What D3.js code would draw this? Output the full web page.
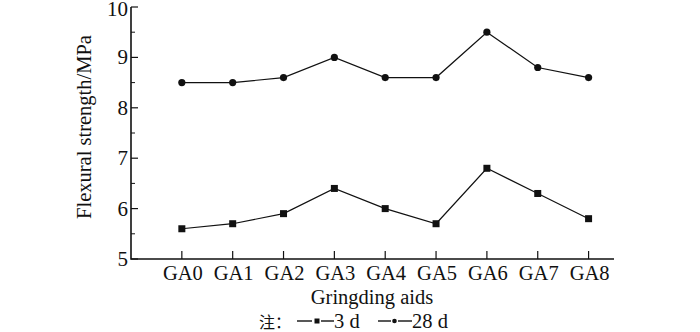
<!DOCTYPE html>
<html>
<head>
<meta charset="utf-8">
<script src="https://d3js.org/d3.v7.min.js"></script>
<style>
  html, body { margin: 0; padding: 0; background: #fff; }
  svg text { font-family: "Liberation Serif", "Times New Roman", serif; fill: #111; }
</style>
</head>
<body>
<div id="chart"></div>
<script>
var categories = ["GA0", "GA1", "GA2", "GA3", "GA4", "GA5", "GA6", "GA7", "GA8"];
var day3 = [5.6, 5.7, 5.9, 6.4, 6.0, 5.7, 6.8, 6.3, 5.8];
var day28 = [8.5, 8.5, 8.6, 9.0, 8.6, 8.6, 9.5, 8.8, 8.6];
var yTicks = [5, 6, 7, 8, 9, 10];
var yMinor = [5.5, 6.5, 7.5, 8.5, 9.5];

var width = 700, height = 332;
var svg = d3.select("#chart").append("svg")
    .attr("width", width)
    .attr("height", height);

// x position by category index; axis runs a bit past the last category
var x = d3.scaleLinear().domain([-1, 8.5]).range([131, 614]);
var y = d3.scaleLinear().domain([5, 10]).range([259, 7]);

var ink = "#111";
var fs = 20.5;

// axis lines
svg.append("path")
    .attr("d", "M" + x(-1) + "," + y(10) + "V" + y(5) + "H" + x(8.5))
    .attr("fill", "none")
    .attr("stroke", ink)
    .attr("stroke-width", 1.6);

// y ticks (inward)
svg.selectAll(".ytick").data(yTicks).enter().append("line")
    .attr("x1", x(-1)).attr("x2", x(-1) + 7)
    .attr("y1", d => y(d)).attr("y2", d => y(d))
    .attr("stroke", ink).attr("stroke-width", 1.2);
svg.selectAll(".ymin").data(yMinor).enter().append("line")
    .attr("x1", x(-1)).attr("x2", x(-1) + 4)
    .attr("y1", d => y(d)).attr("y2", d => y(d))
    .attr("stroke", ink).attr("stroke-width", 1);
svg.selectAll(".ylab").data(yTicks).enter().append("text")
    .attr("x", x(-1) - 3)
    .attr("y", d => Math.max(y(d) + 7, 16))
    .attr("text-anchor", "end")
    .attr("font-size", 21)
    .text(d => d);

// x ticks (inward)
svg.selectAll(".xtick").data(categories).enter().append("line")
    .attr("x1", (d, i) => x(i)).attr("x2", (d, i) => x(i))
    .attr("y1", y(5)).attr("y2", y(5) - 8)
    .attr("stroke", ink).attr("stroke-width", 1.2);
svg.selectAll(".xlab").data(categories).enter().append("text")
    .attr("x", (d, i) => x(i) + 1)
    .attr("y", 280)
    .attr("text-anchor", "middle")
    .attr("font-size", fs)
    .text(d => d);

// titles
svg.append("text")
    .attr("transform", "translate(91,127) rotate(-90)")
    .attr("text-anchor", "middle")
    .attr("font-size", fs)
    .text("Flexural strength/MPa");
svg.append("text")
    .attr("x", 372).attr("y", 304)
    .attr("text-anchor", "middle")
    .attr("font-size", fs)
    .text("Gringding aids");

// series
var line = d3.line().x((d, i) => x(i)).y(d => y(d));
[day3, day28].forEach(function(s) {
  svg.append("path")
      .attr("d", line(s))
      .attr("fill", "none")
      .attr("stroke", ink)
      .attr("stroke-width", 1.2);
});
svg.selectAll(".sq").data(day3).enter().append("rect")
    .attr("x", (d, i) => x(i) - 3.5)
    .attr("y", d => y(d) - 3.5)
    .attr("width", 7).attr("height", 7)
    .attr("fill", ink);
svg.selectAll(".ci").data(day28).enter().append("circle")
    .attr("cx", (d, i) => x(i))
    .attr("cy", d => y(d))
    .attr("r", 3.6)
    .attr("fill", ink);

// legend
var lg = svg.append("g").attr("transform", "translate(0,328)");
lg.append("text")
    .attr("x", 259).attr("y", 0)
    .attr("font-size", 16)
    .style("font-family", "'Noto Sans CJK SC', sans-serif")
    .text("注：");
function dash(a, b) {
  lg.append("line").attr("x1", a).attr("x2", b).attr("y1", -7).attr("y2", -7)
      .attr("stroke", ink).attr("stroke-width", 1.4);
}
dash(297, 312); dash(321, 334);
lg.append("rect").attr("x", 314.5).attr("y", -9.5).attr("width", 5).attr("height", 5).attr("fill", ink);
lg.append("text").attr("x", 334).attr("y", 0).attr("font-size", fs).text("3 d");
dash(378, 391); dash(398, 412);
lg.append("circle").attr("cx", 394.5).attr("cy", -7).attr("r", 2.3).attr("fill", ink);
lg.append("text").attr("x", 412).attr("y", 0).attr("font-size", fs).text("28 d");
</script>
</body>
</html>
